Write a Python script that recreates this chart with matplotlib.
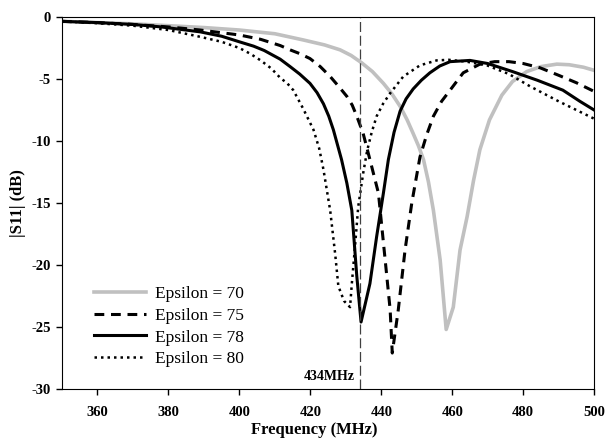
# %%
import matplotlib
matplotlib.use("Agg")
import matplotlib.pyplot as plt

plt.rcParams["font.family"] = ["Liberation Serif", "DejaVu Serif"]
plt.rcParams["axes.unicode_minus"] = False

# %% return loss curves for different permittivity values
freq_70 = [350, 360, 370, 380, 390, 400, 410, 418, 424, 428.4, 431.5, 434.5, 437.5, 440.6, 443,
           445.3, 447.3, 449, 450.5, 451.9, 453.3, 454.7, 456.6, 458.3, 460.3, 462.2, 464.2, 466,
           467.8, 470.5, 474, 477, 481, 485, 489.5, 493, 497, 500]
s11_70 = [-0.35, -0.45, -0.55, -0.7, -0.85, -1.05, -1.35, -1.85, -2.25, -2.65, -3.1, -3.7, -4.4,
          -5.35, -6.2, -7.2, -8.3, -9.4, -10.4, -11.5, -13.3, -15.6, -19.6, -25.2, -23.4, -18.8,
          -16.1, -13.2, -10.7, -8.3, -6.3, -5.2, -4.4, -4.0, -3.8, -3.85, -4.05, -4.3]

freq_75 = [350, 360, 370, 380, 389, 400, 406, 411.5, 414.3, 417, 419.9, 422.8, 425.6, 428,
           430.3, 431.8, 433.1, 434.9, 436.8, 439.2, 441.1, 442.5, 443.1, 444.8, 446.7, 448.6,
           450.9, 452.8, 454.7, 457, 459.4, 463.1, 467.8, 472, 476, 480, 484.8, 490, 495, 500]
s11_75 = [-0.35, -0.45, -0.6, -0.8, -1.05, -1.45, -1.8, -2.3, -2.65, -2.95, -3.35, -4.0, -4.8,
          -5.6, -6.4, -7.1, -8.0, -9.4, -11.5, -14.2, -19.6, -23.6, -27.1, -23.6, -18.8, -15.0,
          -11.3, -9.5, -8.0, -6.8, -5.9, -4.5, -3.8, -3.6, -3.6, -3.75, -4.1, -4.7, -5.3, -6.0]

freq_78 = [350, 360, 370, 378, 389, 395, 400, 404, 407, 411.5, 414.3, 417, 419.9, 421.9, 423.7,
           425.2, 426.5, 428.8, 430.3, 431.7, 433.1, 434.3, 436.8, 438.7, 440.6, 442, 443.6,
           445.3, 447, 449, 451.3, 453.7, 456.5, 459.4, 465, 470, 477, 484, 491.2, 496, 500]
s11_78 = [-0.35, -0.45, -0.6, -0.8, -1.2, -1.55, -2.0, -2.35, -2.7, -3.4, -4.0, -4.6, -5.35, -6.1,
          -7.0, -8.0, -9.1, -11.5, -13.4, -15.6, -20.9, -24.6, -21.5, -17.7, -14.2, -11.5, -9.3,
          -7.6, -6.6, -5.8, -5.1, -4.5, -3.95, -3.6, -3.5, -3.75, -4.4, -5.1, -5.9, -6.8, -7.5]

freq_80 = [350, 360, 370, 380, 389, 395, 400, 403, 406, 409, 411.5, 413.5, 415.2, 418, 420.9,
           422.5, 423.7, 425.6, 427, 427.9, 429.5, 431.2, 431.7, 432.6, 433.5, 434.9, 436,
           437.3, 438.7, 440.5, 442.5, 446.2, 450.9, 455.6, 459, 464, 469.8, 476, 482, 490,
           495, 500]
s11_80 = [-0.35, -0.5, -0.7, -1.05, -1.6, -2.0, -2.5, -2.95, -3.5, -4.15, -4.9, -5.35, -5.9,
          -7.4, -9.1, -10.6, -12.3, -15.6, -19.1, -21.7, -22.9, -23.4, -21.5, -18.5, -15.3,
          -12.6, -10.8, -9.3, -8.0, -7.0, -6.15, -4.8, -3.9, -3.5, -3.45, -3.6, -3.9, -4.6,
          -5.6, -6.8, -7.5, -8.2]

marker_freq = 434

# %% plot
fig = plt.figure(figsize=(6.05, 4.43), dpi=100)
ax = fig.add_axes([0.1025, 0.1219, 0.8795, 0.8397])

ax.plot(freq_70, s11_70, color="#c0c0c0", lw=2.6, label="Epsilon = 70")
ax.plot(freq_75, s11_75, color="black", lw=2.2, ls=(0, (3.2, 2.2)), label="Epsilon = 75")
ax.plot(freq_78, s11_78, color="black", lw=2.2, label="Epsilon = 78")
ax.plot(freq_80, s11_80, color="black", lw=1.8, ls=(0, (1, 1.6)), label="Epsilon = 80")

ax.axvline(marker_freq, color="#404040", lw=0.9, ls=(0, (8, 3)))
ax.text(marker_freq - 1.5, -29.0, "434MHz", ha="right", va="center",
        fontsize=10, fontweight="bold")

ax.set_xlim(350, 500)
ax.set_ylim(-30, 0)
ax.set_xticks(range(360, 501, 20))
ax.set_yticks(range(-30, 1, 5))
ax.tick_params(direction="out", length=4, width=1)
ax.tick_params(axis="x", pad=8)
ax.tick_params(axis="y", pad=4)
for lab in ax.get_xticklabels() + ax.get_yticklabels():
    lab.set_fontsize(10.5)
    lab.set_fontweight("bold")

ax.set_xlabel("Frequency (MHz)", fontsize=12, fontweight="bold")
ax.set_ylabel("|S11| (dB)", fontsize=12, fontweight="bold")
ax.xaxis.set_label_coords(0.474, -0.09)
ax.yaxis.set_label_coords(-0.068, 0.5)

ax.legend(loc="lower left", bbox_to_anchor=(0.06, 0.058), frameon=False, fontsize=12.5,
          handlelength=3.0, handletextpad=0.5, labelspacing=0.33, borderpad=0,
          borderaxespad=0)

fig.savefig("out.png", dpi=100)
